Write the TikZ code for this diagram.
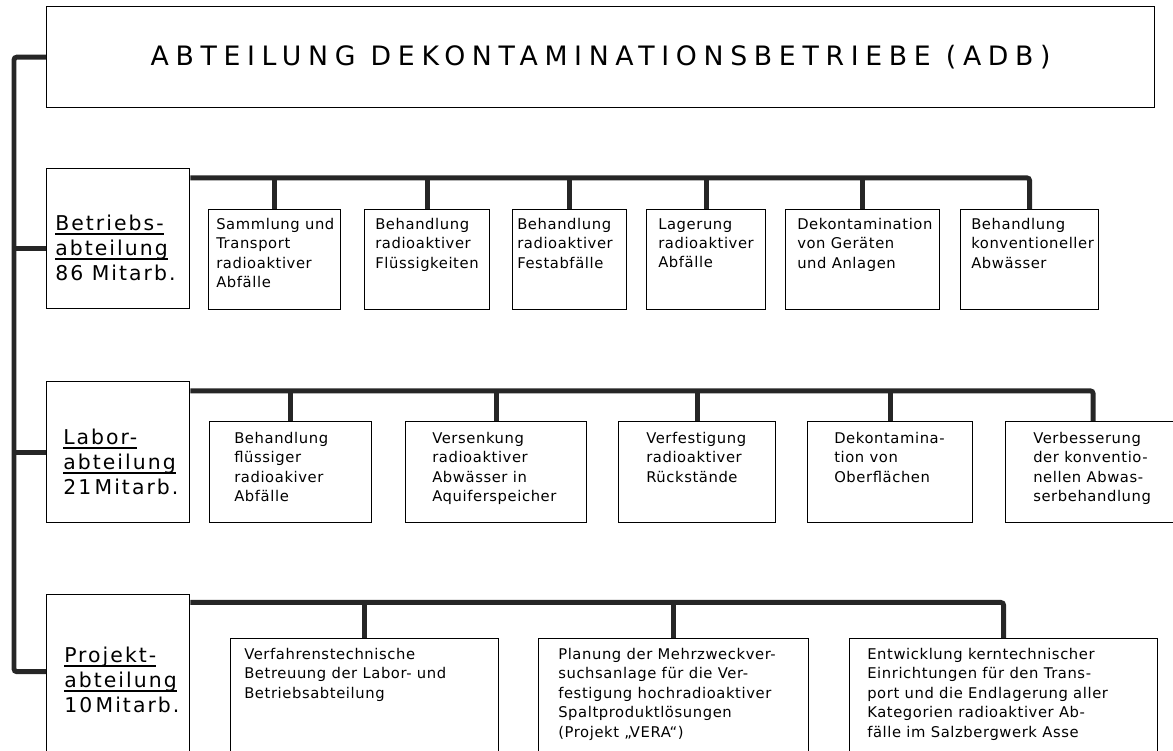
\documentclass[tikz,border=0pt]{standalone}
\usepackage{fontspec}
\setmainfont{DejaVu Sans}
\newfontfamily\titelfont[LetterSpace=25]{DejaVu Sans}
\newfontfamily\abtfont[LetterSpace=10]{DejaVu Sans}
\newfontfamily\taskfont[LetterSpace=4]{DejaVu Sans}
\newcommand{\pxl}{0.025cm}
\newcommand{\ustrich}[1]{\setbox0\hbox{#1}\rlap{\rule[-2.8pt]{\wd0}{0.9pt}}#1}
\tikzset{
  kasten/.style 2 args={draw,line width=0.9pt,anchor=north west,inner sep=0pt,minimum width=#1*\pxl,minimum height=#2*\pxl},
  strang/.style={line width=3.5pt,draw=black!85},
  abttext/.style={anchor=north west,inner sep=0pt,align=left,font=\abtfont\fontsize{14.5}{17.7}\selectfont},
  ttext/.style={anchor=north west,inner sep=0pt,align=left,font=\taskfont\fontsize{10.5}{13.8}\selectfont}
}

\begin{document}
\begin{tikzpicture}[x=\pxl,y=-\pxl]
    \useasboundingbox (0,0) rectangle (1173,751);
    \clip (0,0) rectangle (1173,751);

    \node[kasten={1108}{101},font=\titelfont\fontsize{19}{22}\selectfont] (titel) at (46,6) {ABTEILUNG DEKONTAMINATIONSBETRIEBE (ADB)};

    % Abteilungen
    \node[kasten={143}{140}] (betr) at (46,168) {};
    \node[kasten={143}{141}] (labor) at (46,381) {};
    \node[kasten={143}{180}] (proj) at (46,594) {};
    \node[abttext] (betrt) at (55,215) {\ustrich{Betriebs-}\\\ustrich{abteilung}\\86 Mitarb.};
    \node[abttext] (labort) at (63,429) {\ustrich{Labor-}\\\ustrich{abteilung}\\21\,Mitarb.};
    \node[abttext] (projt) at (64,647) {\ustrich{Projekt-}\\\ustrich{abteilung}\\10\,Mitarb.};

    % Betriebsabteilung
    \node[kasten={132}{100}] (b1) at (208,209) {};
    \node[kasten={125}{100}] (b2) at (364,209) {};
    \node[kasten={114}{100}] (b3) at (512,209) {};
    \node[kasten={119}{100}] (b4) at (646,209) {};
    \node[kasten={154}{100}] (b5) at (785,209) {};
    \node[kasten={138}{100}] (b6) at (960,209) {};
    \node[ttext] (b1t) at (216,218) {Sammlung und\\Transport\\radioaktiver\\Abfälle};
    \node[ttext] (b2t) at (375,218) {Behandlung\\radioaktiver\\Flüssigkeiten};
    \node[ttext] (b3t) at (517,218) {Behandlung\\radioaktiver\\Festabfälle};
    \node[ttext] (b4t) at (658,218) {Lagerung\\radioaktiver\\Abfälle};
    \node[ttext] (b5t) at (797,218) {Dekontamination\\von Geräten\\und Anlagen};
    \node[ttext] (b6t) at (971,218) {Behandlung\\konventioneller\\Abwässer};

    % Laborabteilung
    \node[kasten={162}{101}] (l1) at (209,421) {};
    \node[kasten={181}{101}] (l2) at (405,421) {};
    \node[kasten={157}{101}] (l3) at (618,421) {};
    \node[kasten={165}{101}] (l4) at (807,421) {};
    \node[kasten={175}{101}] (l5) at (1005,421) {};
    \node[ttext] (l1t) at (234,432) {Behandlung\\flüssiger\\radioakiver\\Abfälle};
    \node[ttext] (l2t) at (432,432) {Versenkung\\radioaktiver\\Abwässer in\\Aquiferspeicher};
    \node[ttext] (l3t) at (646,432) {Verfestigung\\radioaktiver\\Rückstände};
    \node[ttext] (l4t) at (834,432) {Dekontamina-\\tion von\\Oberflächen};
    \node[ttext] (l5t) at (1033,432) {Verbesserung\\der konventio-\\nellen Abwas-\\serbehandlung};

    % Projektabteilung
    \node[kasten={268}{142}] (p1) at (230,638) {};
    \node[kasten={270}{142}] (p2) at (538,638) {};
    \node[kasten={308}{142}] (p3) at (849,638) {};
    \node[ttext] (p1t) at (244,648) {Verfahrenstechnische\\Betreuung der Labor- und\\Betriebsabteilung};
    \node[ttext] (p2t) at (558,648) {Planung der Mehrzweckver-\\suchsanlage für die Ver-\\festigung hochradioaktiver\\Spaltproduktlösungen\\(Projekt „VERA“)};
    \node[ttext] (p3t) at (867,648) {Entwicklung kerntechnischer\\Einrichtungen für den Trans-\\port und die Endlagerung aller\\Kategorien radioaktiver Ab-\\fälle im Salzbergwerk Asse};

    % Hauptstrang
    \coordinate (sp) at (14,400);
    \coordinate (bast) at ([yshift=-7pt]betr.west);
    \coordinate (past) at ([yshift=9.2pt]proj.west);
    \draw[strang,rounded corners=2pt] (titel.west) -| (sp) |- (past);
    \draw[strang] (bast) -- (bast -| sp);
    \draw[strang] (labor.west) -- (labor.west -| sp);

    % Verteiler
    \coordinate (bbus) at ([yshift=-7pt]betr.north east);
    \coordinate (lbus) at ([yshift=-7pt]labor.north east);
    \coordinate (pbus) at ([yshift=-6pt]proj.north east);
    \draw[strang,rounded corners=2pt] (bbus) -| (b6.north);
    \draw[strang,rounded corners=2pt] (lbus) -| (l5.north);
    \draw[strang,rounded corners=2pt] (pbus) -| (p3.north);
    \foreach \k in {b1,b2,b3,b4,b5}
        \draw[strang] (\k.north) -- (\k.north |- bbus);
    \foreach \k in {l1,l2,l3,l4}
        \draw[strang] (\k.north) -- (\k.north |- lbus);
    \foreach \k in {p1,p2}
        \draw[strang] (\k.north) -- (\k.north |- pbus);
\end{tikzpicture}
\end{document}
